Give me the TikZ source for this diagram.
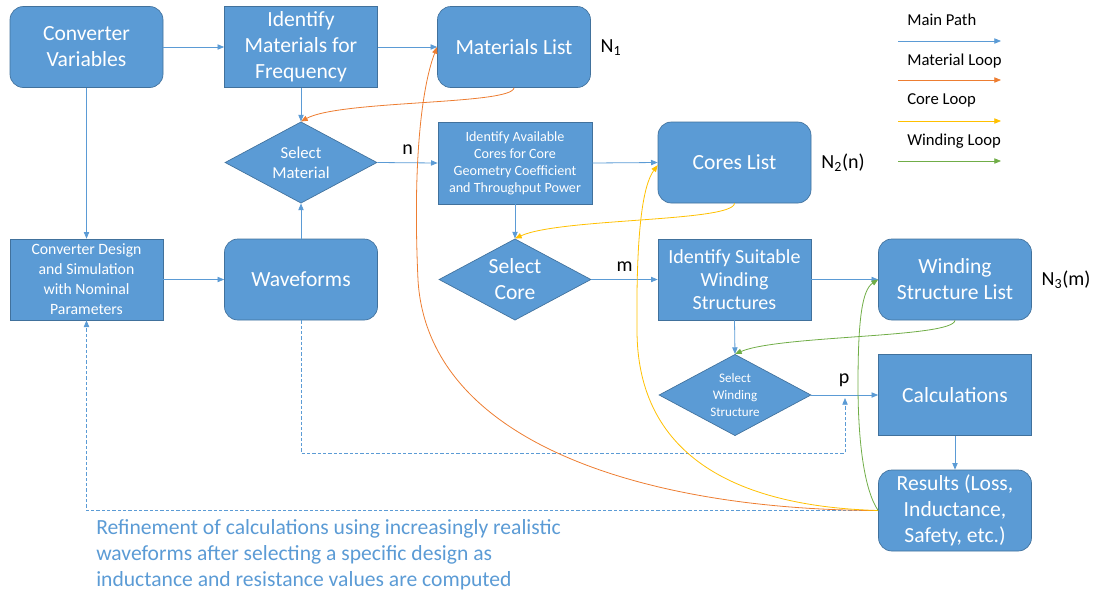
\documentclass[tikz,border=0pt]{standalone}
\usepackage{fontspec}
\setmainfont{Carlito}
\usetikzlibrary{shapes.geometric,arrows.meta}
\definecolor{boxblue}{HTML}{5B9BD5}
\definecolor{boxedge}{HTML}{41719C}
\definecolor{loopor}{HTML}{ED7D31}
\definecolor{loopye}{HTML}{FFC000}
\definecolor{loopgr}{HTML}{70AD47}
\newcommand{\fs}[2]{\fontsize{#1}{#2}\selectfont}
\tikzset{
  blk/.style={rectangle, fill=boxblue, draw=boxedge, line width=0.5pt,
    minimum width=114.75pt, minimum height=60.75pt, text=white,
    align=center, inner sep=0pt},
  rblk/.style={blk, rounded corners=10pt},
  dec/.style={diamond, fill=boxblue, draw=boxedge, line width=0.5pt,
    minimum width=114pt, minimum height=61pt, aspect=1.88, text=white,
    align=center, inner sep=0pt},
  big/.style={font=\fs{16.2}{19.5}},
  tip/.style={-{Triangle[length=5pt,width=4pt]}},
  main/.style={tip, draw=boxblue, line width=0.6pt},
  dsh/.style={tip, draw=boxblue, line width=0.6pt, dash pattern=on 2.5pt off 1.5pt},
  mat/.style={tip, draw=loopor, line width=0.6pt},
  cor/.style={tip, draw=loopye, line width=0.6pt},
  wnd/.style={tip, draw=loopgr, line width=0.6pt},
  lbl/.style={font=\fs{15}{18}, text=black, inner sep=0pt},
  leg/.style={font=\fs{12.5}{15}, text=black, inner sep=0pt, anchor=west},
}
\begin{document}
\begin{tikzpicture}[x=0.75pt,y=-0.75pt]
\useasboundingbox (0,0) rectangle (1096,594);

% top row
\node[rblk,big] (cv) at (86.5,47) {Converter\\Variables};
\node[blk,big] (imf) at (301,47) {Identify\\Materials for\\Frequency};
\node[rblk,big] (ml) at (514,47) {Materials List};
\node[lbl] (n1) at (611,48) {N\textsubscript{1}};

% second row
\node[dec,font=\fs{12.5}{15}] (sm) at (301,162.5) {Select\\Material};
\node[blk,font=\fs{10.6}{12.75}, minimum width=115.5pt, minimum height=61.5pt] (ic) at (515,163)
  {Identify Available\\Cores for Core\\Geometry Coefficient\\and Throughput Power};
\node[rblk,big] (cl) at (734.5,162.5) {Cores List};
\node[lbl] (n2) at (843,163) {N\textsubscript{2}(n)};

% third row
\node[blk,font=\fs{11.8}{15}] (cds) at (86.5,279.5)
  {Converter Design\\and Simulation\\with Nominal\\Parameters};
\node[rblk,big] (wf) at (301,279.5) {Waveforms};
\node[dec,font=\fs{16.2}{19.5}] (sc) at (515,279.5) {Select\\Core};
\node[blk,font=\fs{15}{17.25}] (iws) at (734.5,279.5) {Identify Suitable\\Winding\\Structures};
\node[rblk,big] (wsl) at (955,279.5) {Winding\\Structure List};
\node[lbl] (n3) at (1066,280) {N\textsubscript{3}(m)};

% fourth and fifth rows
\node[dec,font=\fs{9.8}{12.75}] (sws) at (735,395) {Select\\Winding\\Structure};
\node[blk,big] (calc) at (955,395) {Calculations};
\node[rblk,big] (res) at (955,510.5) {Results (Loss,\\Inductance,\\Safety, etc.)};

% main path
\draw[main] (cv.east) -- (imf.west);
\draw[main] (imf.east) -- (ml.west);
\draw[main] (imf.south) -- (sm.north);
\draw[main] (sm.east) -- node[lbl, above=6pt] (ln) {n} (ic.west);
\draw[main] (ic.east) -- (cl.west);
\draw[main] (ic.south) -- (sc.north);
\draw[main] (sc.east) -- node[lbl, above=6pt] (lm) {m} (iws.west);
\draw[main] (iws.east) -- (wsl.west);
\draw[main] (iws.south) -- (sws.north);
\draw[main] (sws.east) -- node[lbl, above=6pt, pos=0.49] (lp) {p} (calc.west);
\draw[main] (calc.south) -- (res.north);
\draw[main] (cv.south) -- (cds.north);
\draw[main] (cds.east) -- (wf.west);
\draw[main] (wf.north) -- (sm.south);

% refinement paths
\coordinate (pin) at (845,398);
\coordinate (dcorner) at (845,453);
\draw[dsh] (wf.south) |- (dcorner) -- (pin);
\draw[dsh] (res.west) -| (cds.south);

% material loop
\draw[mat] (ml.south) .. controls (512,105) and (340,100) .. (sm.north);
\draw[mat] (res.west) .. controls (650,510) and (428,445) .. (418,280)
  .. controls (412,150) and (424,80) .. (ml.west);

% core loop
\draw[cor] (cl.south) .. controls (733,222) and (560,218) .. (sc.north);
\draw[cor] (res.west) .. controls (720,506) and (637,445) .. (637,330)
  .. controls (636,230) and (643,185) .. ([yshift=-2pt]cl.west);

% winding loop
\draw[wnd] (wsl.south) .. controls (953,338) and (780,335) .. (sws.north);
\draw[wnd] (res.west) .. controls (864,490) and (858,440) .. (858,385)
  .. controls (858,320) and (862,290) .. (wsl.west);

% legend
\node[leg] (t1) at (907,20) {Main Path};
\node[leg] (t2) at (907,61) {Material Loop};
\node[leg] (t3) at (907,100) {Core Loop};
\node[leg] (t4) at (907,141) {Winding Loop};
\coordinate (a1s) at (898,41);  \coordinate (a1e) at (1001,41);
\coordinate (a2s) at (898,80);  \coordinate (a2e) at (1001,80);
\coordinate (a3s) at (898,121); \coordinate (a3e) at (1001,121);
\coordinate (a4s) at (898,161); \coordinate (a4e) at (1001,161);
\draw[main] (a1s) -- (a1e);
\draw[mat] (a2s) -- (a2e);
\draw[cor] (a3s) -- (a3e);
\draw[wnd] (a4s) -- (a4e);

% note
\node[anchor=north west, align=left, text=boxblue, font=\fs{16.2}{19.5}, inner sep=0pt] (note) at (96,519)
  {Refinement of calculations using increasingly realistic\\
   waveforms after selecting a specific design as\\
   inductance and resistance values are computed};
\end{tikzpicture}
\end{document}
